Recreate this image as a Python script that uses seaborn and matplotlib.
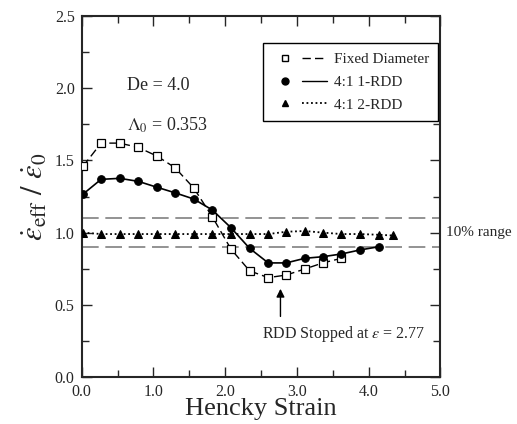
import matplotlib
matplotlib.use("Agg")
import matplotlib.pyplot as plt
from matplotlib.lines import Line2D
from matplotlib.legend_handler import HandlerTuple
from matplotlib.ticker import MultipleLocator, FormatStrFormatter
import seaborn as sns
import numpy as np

# ---- data ----
x_fixed = [0.02, 0.27, 0.53, 0.79, 1.05, 1.30, 1.56, 1.82, 2.08, 2.34, 2.60, 2.85, 3.11, 3.36, 3.62]
y_fixed = [1.46, 1.62, 1.62, 1.59, 1.53, 1.45, 1.31, 1.11, 0.886, 0.735, 0.688, 0.706, 0.748, 0.79, 0.822]

x_rdd1 = [0.02, 0.27, 0.53, 0.79, 1.05, 1.30, 1.56, 1.82, 2.08, 2.34, 2.60, 2.85, 3.11, 3.36, 3.62, 3.88, 4.14]
y_rdd1 = [1.267, 1.369, 1.376, 1.355, 1.314, 1.276, 1.233, 1.157, 1.034, 0.891, 0.79, 0.79, 0.822, 0.833, 0.852, 0.88, 0.902]

x_rdd2 = [0.02, 0.27, 0.53, 0.79, 1.05, 1.30, 1.56, 1.82, 2.08, 2.34, 2.60, 2.85, 3.11, 3.36, 3.62, 3.88, 4.14, 4.34]
y_rdd2 = [1.0, 0.99, 0.99, 0.99, 0.99, 0.99, 0.99, 0.99, 0.99, 0.99, 0.99, 1.006, 1.011, 1.0, 0.99, 0.99, 0.985, 0.98]

range_lines = [1.1, 0.9]
labels = ["Fixed Diameter", "4:1 1-RDD", "4:1 2-RDD"]
stop_strain = 2.77

sns.set_style("ticks")
plt.rcParams["font.family"] = ["Liberation Serif", "DejaVu Serif"]
plt.rcParams["mathtext.fontset"] = "stix"

fig = plt.figure(figsize=(5.17, 4.24), dpi=100)
ax = fig.add_axes([0.158, 0.111, 0.694, 0.851])

# 10% range lines
for yv in range_lines:
    ax.axhline(yv, color="#808080", lw=1.2, linestyle=(0, (10, 4)), zorder=1)

sns.lineplot(x=x_fixed, y=y_fixed, ax=ax, color="black", lw=1.0,
             linestyle=(0, (6, 3)), marker="s", markersize=5.5,
             markerfacecolor="white", markeredgecolor="black",
             markeredgewidth=0.9, estimator=None, sort=False, zorder=3)
sns.lineplot(x=x_rdd1, y=y_rdd1, ax=ax, color="black", lw=1.2,
             linestyle="-", marker="o", markersize=5.5,
             markerfacecolor="black", markeredgecolor="black",
             estimator=None, sort=False, zorder=4)
sns.lineplot(x=x_rdd2, y=y_rdd2, ax=ax, color="black", lw=1.3,
             linestyle=(0, (1, 1.5)), marker="^", markersize=5.5,
             markerfacecolor="black", markeredgecolor="black",
             estimator=None, sort=False, zorder=4)

ax.set_xlim(0, 5.0)
ax.set_ylim(0, 2.5)
ax.xaxis.set_major_locator(MultipleLocator(1.0))
ax.xaxis.set_minor_locator(MultipleLocator(0.5))
ax.yaxis.set_major_locator(MultipleLocator(0.5))
ax.yaxis.set_minor_locator(MultipleLocator(0.25))
ax.xaxis.set_major_formatter(FormatStrFormatter("%.1f"))
ax.yaxis.set_major_formatter(FormatStrFormatter("%.1f"))
ax.tick_params(which="both", direction="in", top=True, right=True, width=1.0,
               labelsize=11.5, pad=5)
ax.tick_params(which="major", length=7)
ax.tick_params(which="minor", length=5)
for s in ax.spines.values():
    s.set_linewidth(1.5)
    s.set_visible(True)

ax.set_xlabel("Hencky Strain", fontsize=19, labelpad=-1)
ax.set_ylabel(r"$\dot{\varepsilon}_{\rm eff}\ /\ \dot{\varepsilon}_0$", fontsize=22, labelpad=4)

ax.text(0.63, 2.02, "De = 4.0", fontsize=13, va="center", ha="left")
ax.text(0.63, 1.745, r"$\Lambda_0$ = 0.353", fontsize=13, va="center", ha="left")

ax.text(1.015, 1.0, "10% range", transform=ax.get_yaxis_transform(),
        fontsize=11, va="center", ha="left", clip_on=False)

ax.annotate("", xy=(stop_strain, 0.63), xytext=(stop_strain, 0.40),
            arrowprops=dict(arrowstyle="-|>", color="black", lw=1.0,
                            mutation_scale=12))
ax.text(2.51, 0.30, r"RDD Stopped at $\varepsilon$ = 2.77",
        fontsize=11.5, ha="left", va="center")

# legend: marker then line sample
h1 = (Line2D([], [], ls="none", marker="s", ms=5, mfc="white", mec="black"),
      Line2D([], [], color="black", lw=1.0, ls=(0, (6, 3))))
h2 = (Line2D([], [], ls="none", marker="o", ms=5, mfc="black", mec="black"),
      Line2D([], [], color="black", lw=1.0, ls="-"))
h3 = (Line2D([], [], ls="none", marker="^", ms=5, mfc="black", mec="black"),
      Line2D([], [], color="black", lw=1.3, ls=(0, (1, 1.5))))
leg = ax.legend([h1, h2, h3], labels, handler_map={tuple: HandlerTuple(ndivide=None, pad=0.3)},
                loc="upper right", bbox_to_anchor=(0.993, 0.925), fontsize=11,
                handlelength=3.6, frameon=True, fancybox=False, edgecolor="black",
                framealpha=1, borderpad=0.6, labelspacing=0.6, handletextpad=0.4,
                borderaxespad=0)
leg.get_frame().set_linewidth(1.0)

fig.savefig("out.png", dpi=100)
